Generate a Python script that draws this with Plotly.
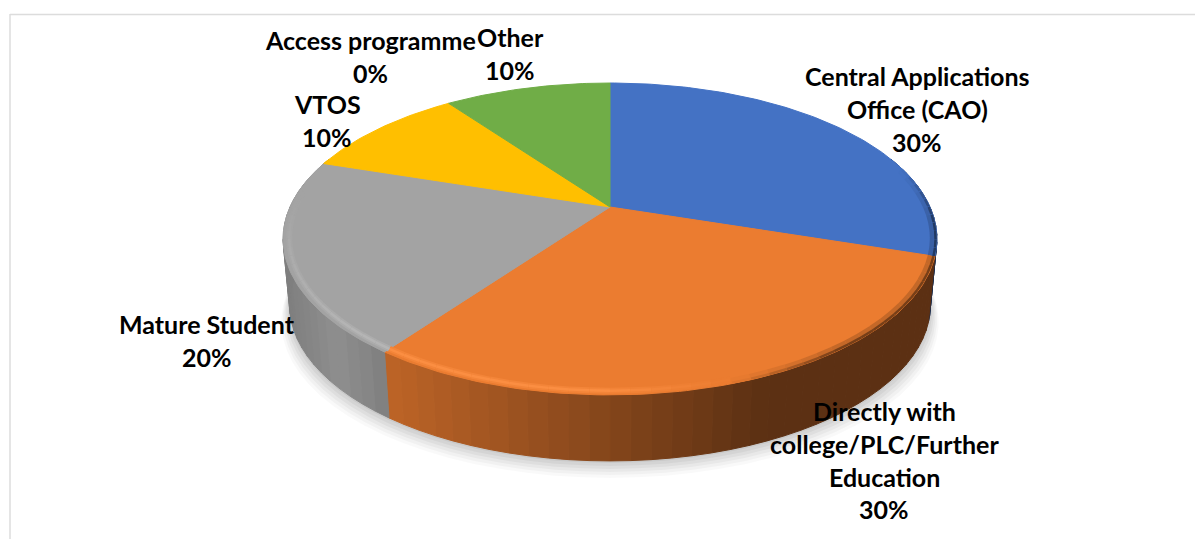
import math
import plotly.graph_objects as go

categories = ["Central Applications Office (CAO)", "Directly with college/PLC/Further Education",
              "Mature Student", "VTOS", "Access programme", "Other"]
values = [30, 30, 20, 10, 0, 10]
colors = ["#4472C4", "#EB7C30", "#A3A3A3", "#FFBF00", "#5B9BD5", "#70AD47"]
wrapped = [["Central Applications", "Office (CAO)"],
           ["Directly with", "college/PLC/Further", "Education"],
           ["Mature Student"], ["VTOS"], ["Access programme"], ["Other"]]
label_centres = [(917, 76), (884, 411), (207, 324), (327, 104), (370, 40), (510, 37)]

CX, CY, A, B, K = 610.0, 207.0, 320.0, 149.4, 0.205
DEPTH, SHRINK = 66.0, 0.98
LINE_H = 32.8
BODY_MARGIN = 8  # the page keeps its default margin, so the plot area starts here


def proj(deg, r=1.0):
    a = math.radians(deg)
    w = 1 + K * r * math.cos(a)
    return CX + A * r * math.sin(a) / w, CY - B * r * math.cos(a) / w


def bottom(deg, grow=1.0, off=0.0):
    x, y = proj(deg)
    return CX + (x - CX) * SHRINK * grow, y + DEPTH + off


def mix(c1, c2, t):
    t = max(0.0, min(1.0, t))
    return "rgb(%d,%d,%d)" % tuple(round(u + (v - u) * t) for u, v in zip(c1, c2))


def rgb(h):
    return tuple(int(h[i:i + 2], 16) for i in (1, 3, 5))


def side_colour(hexcolor, x):
    base = rgb(hexcolor)
    if hexcolor == "#A3A3A3":
        g = 143 - 17 * abs(x - 335) / 55
        g = max(124, g)
        return "rgb(%d,%d,%d)" % (g, g, g)
    light = tuple(u * 0.80 for u in base)
    dark = tuple(u * 0.39 for u in base)
    return mix(light, dark, (x - 390) / (765 - 390))


fig = go.Figure()


def poly(xs, ys, color, line=None):
    fig.add_trace(go.Scatter(x=xs, y=ys, mode="lines", fill="toself", fillcolor=color,
                             line=dict(color=line or "rgba(0,0,0,0)", width=1 if line else 0),
                             hoverinfo="skip", showlegend=False))


def seg(p, q, col, width):
    fig.add_trace(go.Scatter(x=[p[0], q[0]], y=[p[1], q[1]], mode="lines",
                             line=dict(color=col, width=width), hoverinfo="skip", showlegend=False))


# soft shadow under the pie
for grow, off, alpha in [(1.026, 17, .022), (1.021, 14, .03), (1.016, 11, .035), (1.011, 8, .04), (1.006, 5, .045), (1.002, 2, .05)]:
    pts = [bottom(d, grow, off) for d in range(0, 361, 4)]
    poly([p[0] for p in pts], [p[1] for p in pts], f"rgba(0,0,0,{alpha})")

# slice boundaries in degrees, clockwise from 12 o'clock
total = sum(values)
edges = [0.0]
for v in values:
    edges.append(edges[-1] + 360.0 * v / total)

# side wall
for i, v in enumerate(values):
    if v == 0:
        continue
    lo, hi = max(edges[i], 70.0), min(edges[i + 1], 290.0)
    d = lo
    while d < hi:
        e = min(d + 3.0, hi)
        t1, t2, b2, b1 = proj(d), proj(e), bottom(e), bottom(d)
        col = side_colour(colors[i], (t1[0] + t2[0]) / 2)
        poly([t1[0], t2[0], b2[0], b1[0], t1[0]], [t1[1], t2[1], b2[1], b1[1], t1[1]], col, col)
        d = e

# top faces
for i, v in enumerate(values):
    if v == 0:
        continue
    n = max(2, int(edges[i + 1] - edges[i]))
    rim = [proj(edges[i] + (edges[i + 1] - edges[i]) * k / n) for k in range(n + 1)]
    poly([CX] + [p[0] for p in rim] + [CX], [CY] + [p[1] for p in rim] + [CY], colors[i], colors[i])

# bevel: soft highlight on the lit side, soft dark on the far right
for i, v in enumerate(values):
    if v == 0:
        continue
    lo, hi = edges[i], edges[i + 1]
    d = lo
    while d < hi - 0.01:
        e = min(d + 3.0, hi)
        mid = (d + e) / 2
        x, _ = proj(mid)
        base = rgb(colors[i])
        if 120 < mid < 275 and x < 730:
            fade = min(1.0, (730 - x) / 130) * min(1.0, (275 - mid) / 50)
            hi_col = tuple(min(255, u + 22) for u in base)
            seg(proj(d, 0.982), proj(e, 0.982), mix(base, hi_col, fade * 0.4), 6)
            seg(proj(d, 0.982), proj(e, 0.982), mix(base, hi_col, fade * 0.8), 2.5)
        elif 75 < mid < 170 and x >= 730:
            strength = min(1.0, (x - 730) / 110) * min(1.0, (mid - 75) / 20)
            dark = tuple(u * 0.45 for u in base)
            seg(proj(d, 0.988), proj(e, 0.988), mix(base, dark, strength * 0.3), 6)
            seg(proj(d, 0.996), proj(e, 0.996), mix(base, dark, strength * 0.9), 2.5)
        d = e

# labels
annotations = []
for lines, val, (lx, ly) in zip(wrapped, values, label_centres):
    for j, text in enumerate(lines + [f"{val}%"]):
        annotations.append(dict(x=lx, y=ly + j * LINE_H, text=text, showarrow=False, xanchor="center",
                                yanchor="middle", font=dict(family="Lato", size=25, color="#000000",
                                                            weight="bold")))

shapes = [
    dict(type="line", x0=10, x1=1203, y0=14.5, y1=14.5, line=dict(color="#DCDCDC", width=1.5), layer="below"),
    dict(type="line", x0=10, x1=10, y0=14, y1=539, line=dict(color="#DCDCDC", width=1.5), layer="below"),
]

fig.update_layout(
    width=1203 - BODY_MARGIN, height=539 - BODY_MARGIN, autosize=False,
    margin=dict(l=0, r=0, t=0, b=0),
    paper_bgcolor="white", plot_bgcolor="white",
    xaxis=dict(range=[BODY_MARGIN, 1203], visible=False, fixedrange=True),
    yaxis=dict(range=[539, BODY_MARGIN], visible=False, fixedrange=True),
    annotations=annotations, shapes=shapes, showlegend=False,
)
fig.write_html("out.html")
